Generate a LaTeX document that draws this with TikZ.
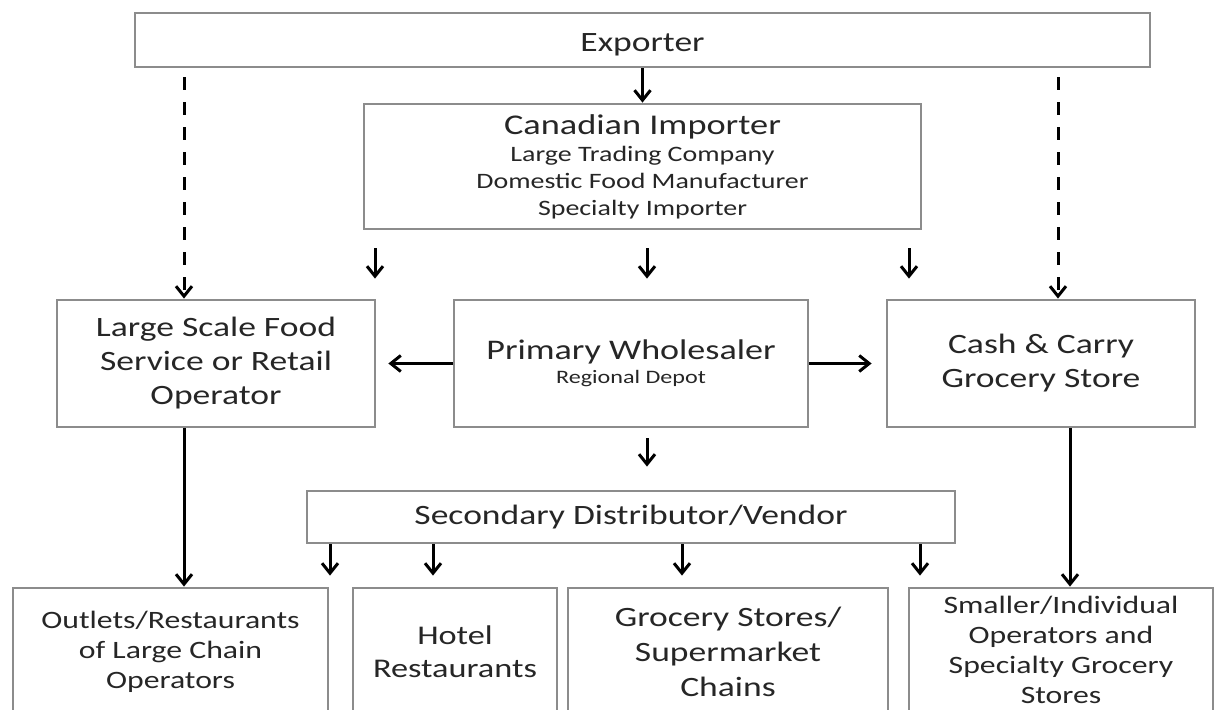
\documentclass[tikz,border=0pt]{standalone}
\usepackage{fontspec}
\setmainfont[FakeStretch=1.27]{Carlito}
\usetikzlibrary{arrows.meta}

\begin{document}
\begin{tikzpicture}[x=0.5pt, y=-0.5pt,
    box/.style={draw=black!45, line width=1.4pt, rectangle, align=center, text=black!85},
    arr/.style={line width=1.5pt, -{Straight Barb[length=5pt, width=8pt, line width=1.5pt]}},
    dashline/.style={dash pattern=on 6.5pt off 6pt}]
    \useasboundingbox (0,0) rectangle (1215,710);
    \clip (0,0) rectangle (1215,710);

    % 上层节点
    \node[box, minimum width=507.5pt, minimum height=27pt, font=\fontsize{14}{16}\selectfont] (export) at (642.5,40)
        {\raisebox{-2.5pt}[\height][\depth]{Exporter}};
    \node[box, minimum width=278.5pt, minimum height=62.5pt, font=\fontsize{11}{13.5}\selectfont] (importer) at (642.5,166.5)
        {{\fontsize{14.3}{16}\selectfont Canadian Importer}\\ Large Trading Company\\ Domestic Food Manufacturer\\ Specialty Importer};

    % 中层节点
    \node[box, minimum width=159pt, minimum height=63.5pt, font=\fontsize{14}{17}\selectfont] (largescale) at (216,363.5)
        {Large Scale Food\\ Service or Retail\\ Operator};
    \node[box, minimum width=177pt, minimum height=63.5pt, font=\fontsize{9.5}{12}\selectfont] (primary) at (631,363.5)
        {{\fontsize{14.2}{15}\selectfont Primary Wholesaler}\\ Regional Depot};
    \node[box, minimum width=154pt, minimum height=63.5pt, font=\fontsize{14}{17}\selectfont] (cashcarry) at (1041,363.5)
        {Cash \& Carry\\ Grocery Store};
    \node[box, minimum width=324pt, minimum height=26pt, font=\fontsize{14}{17}\selectfont] (secondary) at (631,517)
        {Secondary Distributor/Vendor};

    % 下层节点
    \node[box, minimum width=157.5pt, minimum height=64pt, font=\fontsize{12.5}{15}\selectfont] (outlets) at (170.5,652)
        {Outlets/Restaurants\\ of Large Chain\\ Operators};
    \node[box, minimum width=102pt, minimum height=64pt, font=\fontsize{13.5}{16.5}\selectfont] (hotel) at (455,652)
        {Hotel\\ Restaurants};
    \node[box, minimum width=160pt, minimum height=64pt, font=\fontsize{14}{17.5}\selectfont] (grocery) at (728,652)
        {Grocery Stores/\\ Supermarket\\ Chains};
    \node[box, minimum width=152pt, minimum height=62pt, font=\fontsize{12.5}{15}\selectfont] (smaller) at (1061,650)
        {Smaller/Individual\\ Operators and\\ Specialty Grocery\\ Stores};

    % 箭头
    \coordinate (lsx) at (184,0);
    \coordinate (ccx) at (1058,0);
    \draw[arr] (export) -- (importer);
    \draw[arr, dashline, shorten <=4.5pt] (export.south -| lsx) -- (largescale.north -| lsx);
    \draw[arr, dashline, shorten <=4.5pt] (export.south -| ccx) -- (cashcarry.north -| ccx);
    \foreach \x in {375,647,909}
        \draw[arr, shorten <=9pt, shorten >=10pt] (importer.south -| \x,0) -- (primary.north -| \x,0);
    \draw[arr, shorten >=6pt] (primary) -- (largescale);
    \draw[arr, shorten >=7pt] (primary) -- (cashcarry);
    \draw[arr, shorten <=5pt, shorten >=11.5pt] (primary.south -| 647,0) -- (secondary.north -| 647,0);
    \foreach \x in {330,433,682,920}
        \draw[arr, shorten >=5.5pt] (secondary.south -| \x,0) -- (outlets.north -| \x,0);
    \draw[arr] (largescale.south -| lsx) -- (outlets.north -| lsx);
    \draw[arr] (cashcarry.south -| 1070,0) -- (smaller.north -| 1070,0);
  \end{tikzpicture}
\end{document}
